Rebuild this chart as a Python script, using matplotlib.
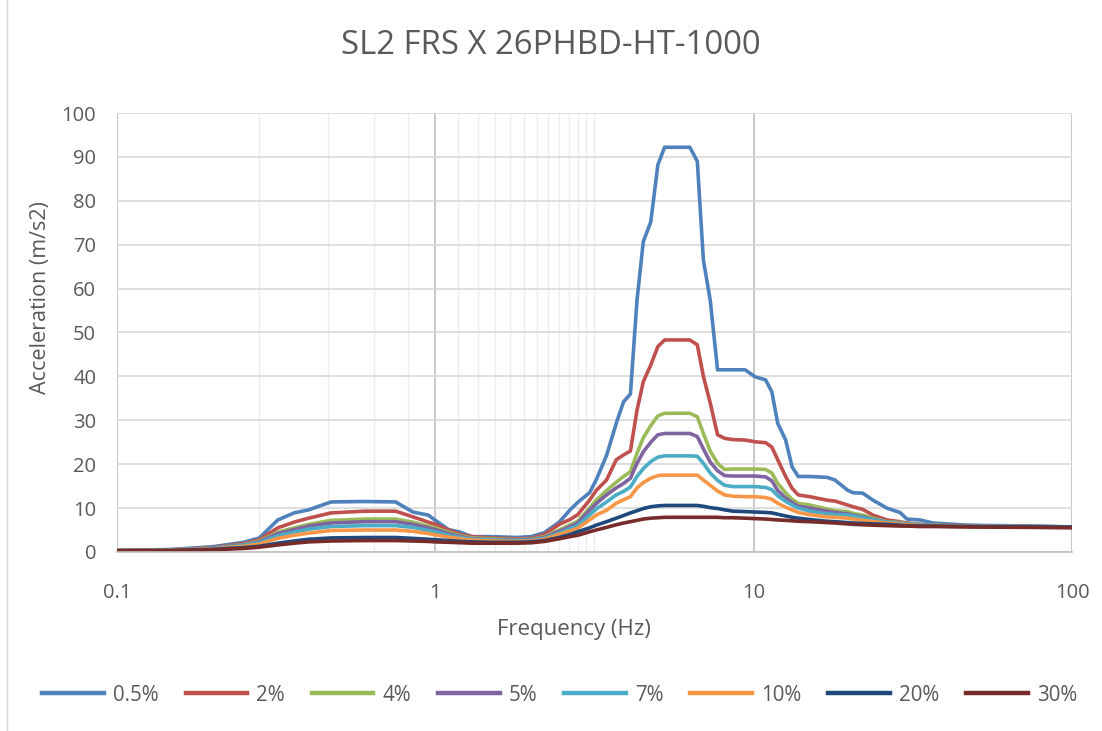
import matplotlib
matplotlib.use("Agg")
import matplotlib.pyplot as plt
from matplotlib.ticker import FixedLocator, NullFormatter
from matplotlib.patches import Rectangle

# frequency grid (Hz), shared by all damping curves
freq = [0.1, 0.15, 0.2, 0.25, 0.28, 0.32, 0.36, 0.40, 0.47, 0.6, 0.75, 0.85, 0.95,
        1.0, 1.1, 1.2, 1.3, 1.5, 1.8, 2.0, 2.2, 2.45, 2.65, 2.8, 3.05, 3.2, 3.45,
        3.7, 3.9, 4.1, 4.3, 4.5, 4.75, 5.0, 5.25, 6.3, 6.65, 6.95, 7.3, 7.7, 8.1,
        8.6, 9.4, 10.1, 10.9, 11.4, 11.9, 12.6, 13.2, 13.8, 15, 17, 18, 19.7, 20.5,
        22, 23.7, 26.2, 28.8, 30.3, 33.3, 36.6, 47, 75, 100]

acc_05 = [0.3, 0.6, 1.2, 2.2, 3.2, 7.3, 8.9, 9.6, 11.4, 11.5, 11.4, 9.1, 8.4,
          7.2, 5.1, 4.5, 3.5, 3.5, 3.3, 3.5, 4.4, 6.8, 9.6, 11.3, 13.5, 16.4, 22,
          29.3, 34.2, 36, 57.4, 70.7, 75.2, 88.2, 92.2, 92.2, 89, 66.5, 57.4, 41.5, 41.5,
          41.5, 41.5, 39.9, 39.2, 36.5, 29.3, 25.5, 19.4, 17.2, 17.2, 17.0, 16.4, 14.1, 13.5,
          13.4, 11.8, 10.0, 9.0, 7.5, 7.3, 6.6, 6.1, 5.9, 5.7]
acc_2 = [0.3, 0.5, 1.0, 1.9, 2.8, 5.5, 6.8, 7.7, 8.9, 9.3, 9.3, 8.0, 6.8,
         6.3, 5.0, 4.0, 3.5, 3.2, 3.0, 3.1, 4.0, 6.3, 7.4, 8.5, 11.8, 14.0, 16.4,
         21, 22.1, 23, 32.3, 38.8, 42.6, 46.8, 48.3, 48.3, 47.2, 40, 34, 26.7, 25.9,
         25.6, 25.5, 25.1, 24.9, 23.9, 21, 17.2, 14.5, 13.0, 12.6, 11.8, 11.6, 10.7, 10.3,
         9.7, 8.4, 7.3, 6.9, 6.6, 6.3, 6.1, 6.0, 5.8, 5.7]
acc_4 = [0.3, 0.5, 0.9, 1.7, 2.5, 4.5, 5.5, 6.3, 7.2, 7.5, 7.5, 6.8, 5.9,
         5.5, 4.5, 3.7, 3.2, 3.0, 2.8, 2.9, 3.5, 5.0, 6.2, 7.0, 10.0, 11.8, 14,
         15.9, 17.2, 18.3, 22.5, 26.0, 28.8, 31.0, 31.6, 31.6, 30.8, 27, 23, 20.2, 18.8,
         18.9, 18.9, 18.9, 18.8, 18.0, 15.6, 13.5, 12.0, 11.1, 10.7, 9.8, 9.4, 9.2, 8.8,
         8.4, 7.7, 6.9, 6.7, 6.5, 6.3, 6.1, 5.9, 5.8, 5.7]
acc_5 = [0.3, 0.5, 0.9, 1.6, 2.3, 4.2, 5.1, 5.9, 6.6, 6.9, 6.9, 6.3, 5.5,
         5.1, 4.2, 3.5, 3.0, 2.8, 2.7, 2.8, 3.3, 4.7, 5.8, 6.6, 9.5, 11.0, 13,
         14.6, 15.6, 16.8, 20.2, 22.8, 25, 26.7, 27.0, 27.0, 26.3, 23.5, 20.5, 18.5, 17.4,
         17.3, 17.3, 17.3, 17.1, 16.2, 14.0, 12.3, 11.3, 10.4, 10.0, 9.3, 9.0, 8.7, 8.4,
         8.0, 7.4, 6.8, 6.5, 6.4, 6.2, 6.0, 5.9, 5.8, 5.7]
acc_7 = [0.3, 0.4, 0.8, 1.5, 2.1, 3.7, 4.5, 5.2, 5.8, 6.0, 6.0, 5.6, 4.9,
         4.6, 3.8, 3.3, 2.9, 2.7, 2.6, 2.7, 3.1, 4.3, 5.3, 6.0, 8.4, 9.8, 11.4,
         13.0, 13.8, 14.8, 17.2, 19.0, 20.6, 21.6, 21.9, 21.9, 21.8, 20.2, 18.0, 16.3, 15.2,
         14.9, 14.9, 14.9, 14.7, 14.2, 12.8, 11.5, 10.7, 10.0, 9.3, 8.7, 8.5, 8.4, 8.2,
         7.8, 7.3, 6.8, 6.5, 6.3, 6.1, 6.0, 5.9, 5.8, 5.7]
acc_10 = [0.3, 0.4, 0.7, 1.3, 1.8, 3.1, 3.8, 4.3, 4.9, 5.0, 5.0, 4.7, 4.2,
          3.9, 3.4, 3.0, 2.7, 2.5, 2.4, 2.5, 2.9, 4.0, 4.8, 5.4, 7.3, 8.4, 9.5,
          11.1, 11.9, 12.6, 14.6, 15.8, 16.8, 17.4, 17.5, 17.5, 17.5, 16.4, 15.2, 13.9, 13.0,
          12.7, 12.6, 12.6, 12.4, 12.0, 11.1, 10.2, 9.6, 9.0, 8.5, 8.0, 7.9, 7.7, 7.5,
          7.2, 6.9, 6.6, 6.3, 6.2, 6.0, 5.9, 5.8, 5.7, 5.7]
acc_20 = [0.3, 0.35, 0.6, 1.0, 1.3, 2.0, 2.5, 2.9, 3.2, 3.3, 3.3, 3.1, 2.9,
          2.8, 2.6, 2.4, 2.3, 2.2, 2.2, 2.3, 2.6, 3.3, 4.0, 4.6, 5.5, 6.1, 6.9,
          7.7, 8.3, 8.9, 9.4, 9.9, 10.3, 10.5, 10.6, 10.6, 10.6, 10.4, 10.1, 9.9, 9.6,
          9.3, 9.2, 9.1, 9.0, 8.9, 8.6, 8.2, 7.9, 7.7, 7.4, 7.0, 6.9, 6.7, 6.6,
          6.5, 6.4, 6.3, 6.1, 6.0, 5.9, 5.9, 5.8, 5.7, 5.7]
acc_30 = [0.3, 0.3, 0.5, 0.8, 1.1, 1.6, 2.0, 2.3, 2.5, 2.6, 2.6, 2.5, 2.4,
          2.3, 2.2, 2.1, 2.0, 2.0, 2.0, 2.1, 2.4, 3.0, 3.5, 3.8, 4.6, 5.0, 5.6,
          6.2, 6.6, 6.9, 7.2, 7.5, 7.7, 7.8, 7.9, 7.9, 7.9, 7.9, 7.9, 7.9, 7.8,
          7.8, 7.7, 7.6, 7.5, 7.4, 7.3, 7.2, 7.1, 7.0, 6.9, 6.7, 6.6, 6.4, 6.3,
          6.2, 6.1, 6.0, 5.9, 5.9, 5.8, 5.8, 5.7, 5.6, 5.5]

labels = ["0.5%", "2%", "4%", "5%", "7%", "10%", "20%", "30%"]
series = [acc_05, acc_2, acc_4, acc_5, acc_7, acc_10, acc_20, acc_30]
colors = ["#4F81BD", "#C0504D", "#9BBB59", "#8064A2", "#4BACC6", "#F79646",
          "#1F497D", "#772C2A"]

# Excel-style minor gridlines (linear steps of 0.18 inside the first decades)
minor_x = [0.28, 0.46, 0.64, 0.82,
           1.18, 1.36, 1.54, 1.72, 1.90, 2.08, 2.26, 2.44, 2.62, 2.80, 2.98, 3.16]

plt.rcParams['font.family'] = ['Open Sans', 'DejaVu Sans']
txt = "#595959"

fig = plt.figure(figsize=(11.02, 7.31), dpi=100)
ax = fig.add_axes([0.1062, 0.2449, 0.8666, 0.6005])

for vals, lab, col in zip(series, labels, colors):
    ax.plot(freq, vals, color=col, lw=2.6, label=lab, solid_joinstyle='round')

ax.set_xscale('log')
ax.set_xlim(0.1, 100)
ax.set_ylim(0, 100)
ax.set_yticks(range(0, 101, 10))
ax.xaxis.set_major_locator(FixedLocator([0.1, 1, 10, 100]))
ax.set_xticklabels(["0.1", "1", "10", "100"])
ax.xaxis.set_minor_locator(FixedLocator(minor_x))
ax.xaxis.set_minor_formatter(NullFormatter())

ax.grid(True, which='major', axis='y', color="#D9D9D9", lw=1.2)
ax.grid(True, which='major', axis='x', color="#BFBFBF", lw=1.2)
ax.grid(True, which='minor', axis='x', color="#EDEDED", lw=1.0)
ax.set_axisbelow(True)

for s in ['top', 'right', 'left']:
    ax.spines[s].set_visible(False)
ax.spines['bottom'].set_color("#BFBFBF")
ax.spines['bottom'].set_linewidth(1.2)
ax.tick_params(which='both', length=0, colors=txt, labelsize=14.5)
ax.tick_params(axis='x', pad=22)
ax.tick_params(axis='y', pad=15)

fig.text(574 / 1102, 1 - 630 / 731, "Frequency (Hz)", ha='center', va='center',
         fontsize=16, color=txt)
fig.text(41 / 1102, 1 - 298 / 731, "Acceleration (m/s2)", ha='center', va='center',
         rotation=90, fontsize=15.5, color=txt)
fig.text(0.5, 1 - 45 / 731, "SL2 FRS X 26PHBD-HT-1000", ha='center', va='center',
         fontsize=23.7, color=txt)

leg = fig.legend(loc='center', bbox_to_anchor=(0.508, 0.049), ncol=8, frameon=False,
                 fontsize=14.8, handlelength=3.0, columnspacing=1.3, handletextpad=0.45)
for t in leg.get_texts():
    t.set_color(txt)
for h in leg.get_lines():
    h.set_linewidth(3.2)

fig.patches.append(Rectangle((0.0065, -0.01), 1.0, 1.02, transform=fig.transFigure,
                             fill=False, edgecolor="#D9D9D9", lw=1.0))

fig.savefig("out.png", dpi=100)
